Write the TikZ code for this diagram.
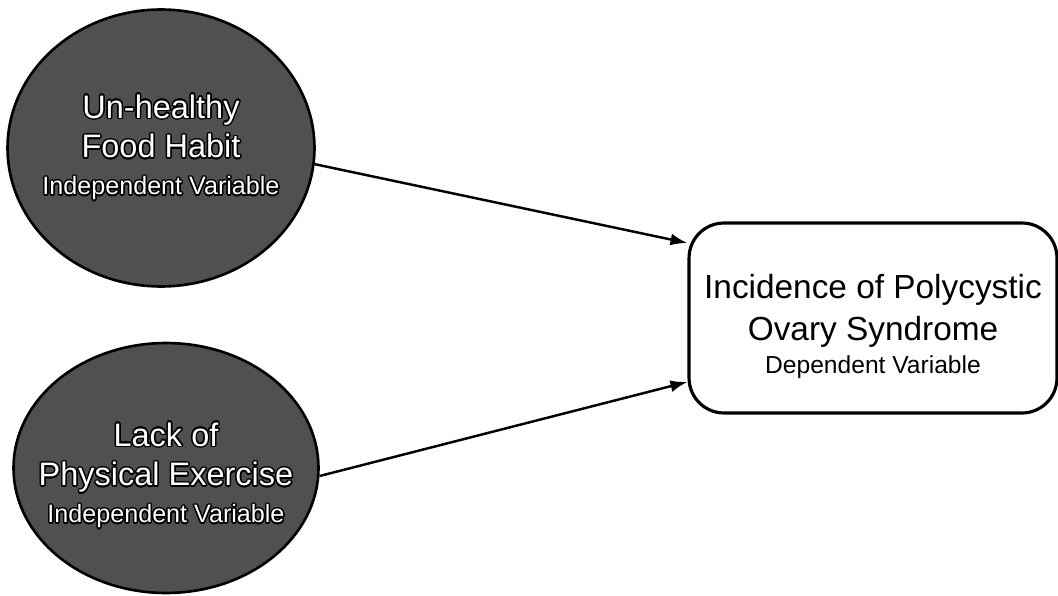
\documentclass[tikz,border=0pt]{standalone}
\usepackage{fontspec}
\setmainfont{Liberation Sans}
\usepackage[copies]{contour}
\usepackage{tikz}
\usetikzlibrary{shapes.geometric}
\usetikzlibrary{arrows.meta}
\definecolor{blobgray}{HTML}{505050}
\contourlength{0.8pt}
\newcommand{\biglbl}[1]{\contour{black}{#1}}
\newcommand{\smalllbl}[1]{{\fontsize{14.3}{16}\selectfont\contour{black}{#1}}}
\tikzset{
	indep/.style={
		ellipse,
		draw=black,
		line width=1.5pt,
		fill=blobgray,
		text=white,
		align=center,
		inner sep=-1cm,
		font=\fontsize{18.5}{22.7}\selectfont},
	dep/.style={
		rectangle,
		rounded corners=0.7cm,
		draw=black,
		line width=1.8pt,
		fill=white,
		align=center,
		minimum width=7.36cm,
		minimum height=3.8cm,
		font=\fontsize{19}{23.8}\selectfont},
	every edge/.style={
		draw,
		-{Latex[length=3.4mm,width=2.4mm]},
		line width=1.4pt}
}

\begin{document}
\begin{tikzpicture}[x=0.02cm, y=-0.02cm]
	\useasboundingbox (0,0) rectangle (1058,595);
	\node[indep, minimum width=6.14cm, minimum height=5.54cm] (food) at (161,148)
		{\biglbl{Un-healthy}\\ \biglbl{Food Habit}\\[-1.7pt] \smalllbl{Independent Variable}};
	\node[indep, minimum width=6.1cm, minimum height=5cm] (exer) at (166,468)
		{\rule{0pt}{22.5pt}\biglbl{Lack of}\\ \biglbl{Physical Exercise}\\[-1.7pt] \smalllbl{Independent Variable}};
	\node[dep] (pcos) at (873,318)
		{\rule{0pt}{23pt}Incidence of Polycystic\\ Ovary Syndrome\\[-5pt] {\fontsize{14}{16}\selectfont Dependent Variable}};
	\draw (food.-6) edge (pcos.158);
	\draw (exer.-3) edge (pcos.199);
\end{tikzpicture}
\end{document}
